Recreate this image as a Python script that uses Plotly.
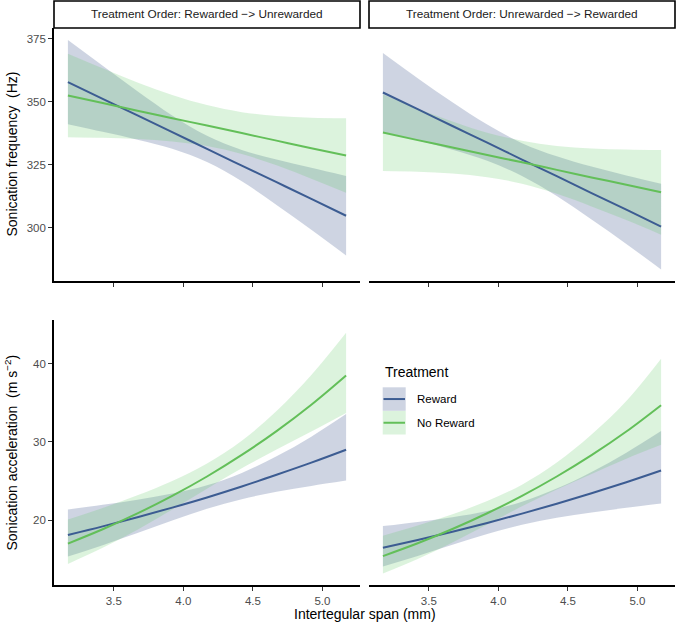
import plotly.graph_objects as go

# ---------------- data ----------------
span = [3.17, 3.42, 3.67, 3.92, 4.17, 4.42, 4.67, 4.92, 5.17]

panel_titles = ["Treatment Order: Rewarded \u2212> Unrewarded",
                "Treatment Order: Unrewarded \u2212> Rewarded"]
treatments = ["Reward", "No Reward"]

freq_ticks = [300, 325, 350, 375]
acc_ticks = [20, 30, 40]
span_ticks = [3.5, 4.0, 4.5, 5.0]
span_ticklabels = ["3.5", "4.0", "4.5", "5.0"]

# Sonication frequency, order 1 (Rewarded -> Unrewarded)
freq_o1_reward_fit = [357.7, 351.1, 344.5, 337.9, 331.2, 324.6, 318.0, 311.4, 304.7]
freq_o1_reward_hi = [374.4, 364.2, 354.1, 344.5, 336.4, 330.8, 327.0, 323.7, 320.5]
freq_o1_reward_lo = [341.0, 338.0, 334.9, 331.3, 326.0, 318.4, 309.0, 299.1, 288.9]
freq_o1_noreward_fit = [352.4, 349.4, 346.4, 343.4, 340.5, 337.5, 334.5, 331.5, 328.6]
freq_o1_noreward_hi = [369.0, 363.2, 357.6, 352.6, 348.6, 345.8, 344.3, 343.6, 343.4]
freq_o1_noreward_lo = [335.8, 335.6, 335.2, 334.2, 332.4, 329.2, 324.7, 319.4, 313.8]

# Sonication frequency, order 2 (Unrewarded -> Rewarded)
freq_o2_reward_fit = [353.6, 347.0, 340.3, 333.7, 327.0, 320.4, 313.7, 307.1, 300.4]
freq_o2_reward_hi = [369.3, 359.3, 349.7, 340.9, 333.5, 328.3, 324.2, 320.7, 317.4]
freq_o2_reward_lo = [337.9, 334.7, 330.9, 326.5, 320.5, 312.5, 303.2, 293.5, 283.4]
freq_o2_noreward_fit = [337.7, 334.7, 331.8, 328.8, 325.9, 322.9, 319.9, 317.0, 314.0]
freq_o2_noreward_hi = [352.9, 347.2, 342.1, 337.6, 334.5, 332.4, 331.4, 331.0, 330.8]
freq_o2_noreward_lo = [322.5, 322.2, 321.5, 320.0, 317.4, 313.4, 308.4, 303.0, 297.2]

# Sonication acceleration, order 1
acc_o1_reward_fit = [18.1, 19.2, 20.37, 21.6, 22.9, 24.3, 25.8, 27.35, 29.0]
acc_o1_reward_hi = [21.37, 21.95, 22.62, 23.40, 24.46, 26.04, 28.17, 30.68, 33.56]
acc_o1_reward_lo = [15.33, 16.79, 18.34, 19.94, 21.44, 22.68, 23.63, 24.38, 25.06]
acc_o1_noreward_fit = [17.0, 18.83, 20.86, 23.1, 25.58, 28.34, 31.39, 34.76, 38.5]
acc_o1_noreward_hi = [20.07, 21.55, 23.17, 25.0, 27.24, 30.15, 33.96, 38.57, 43.97]
acc_o1_noreward_lo = [14.40, 16.45, 18.78, 21.35, 24.02, 26.64, 29.02, 31.33, 33.71]

# Sonication acceleration, order 2
acc_o2_reward_fit = [16.46, 17.46, 18.52, 19.64, 20.83, 22.09, 23.43, 24.85, 26.35]
acc_o2_reward_hi = [19.24, 19.77, 20.37, 21.17, 22.36, 24.05, 26.17, 28.63, 31.39]
acc_o2_reward_lo = [14.08, 15.42, 16.84, 18.22, 19.41, 20.29, 20.98, 21.57, 22.12]
acc_o2_noreward_fit = [15.4, 17.04, 18.86, 20.88, 23.11, 25.58, 28.31, 31.33, 34.7]
acc_o2_noreward_hi = [18.0, 19.30, 20.75, 22.43, 24.54, 27.36, 30.95, 35.23, 40.64]
acc_o2_noreward_lo = [13.18, 15.04, 17.14, 19.44, 21.76, 23.91, 25.90, 27.86, 29.63]

# ---------------- styling ----------------
W, H = 677, 623
FONT = "Liberation Sans, Arial, sans-serif"
line_col = {"Reward": "#3C5C92", "No Reward": "#63BF59"}
fill_col = {"Reward": "rgba(59,82,139,0.25)", "No Reward": "rgba(94,201,98,0.22)"}

def px_x(p):
    return p / W

def px_y(p):
    return 1 - p / H

left_dom = [px_x(54), px_x(360)]
right_dom = [px_x(369), px_x(675)]
top_dom = [px_y(281), px_y(28)]
bot_dom = [px_y(585), px_y(320)]

panels = [
    ("x", "y", [("Reward", freq_o1_reward_fit, freq_o1_reward_lo, freq_o1_reward_hi),
                ("No Reward", freq_o1_noreward_fit, freq_o1_noreward_lo, freq_o1_noreward_hi)]),
    ("x2", "y2", [("Reward", freq_o2_reward_fit, freq_o2_reward_lo, freq_o2_reward_hi),
                  ("No Reward", freq_o2_noreward_fit, freq_o2_noreward_lo, freq_o2_noreward_hi)]),
    ("x3", "y3", [("Reward", acc_o1_reward_fit, acc_o1_reward_lo, acc_o1_reward_hi),
                  ("No Reward", acc_o1_noreward_fit, acc_o1_noreward_lo, acc_o1_noreward_hi)]),
    ("x4", "y4", [("Reward", acc_o2_reward_fit, acc_o2_reward_lo, acc_o2_reward_hi),
                  ("No Reward", acc_o2_noreward_fit, acc_o2_noreward_lo, acc_o2_noreward_hi)]),
]

fig = go.Figure()
for xa, ya, series in panels:
    for name, fit, lo, hi in series:
        fig.add_trace(go.Scatter(x=span, y=lo, mode="lines", xaxis=xa, yaxis=ya,
                                 line=dict(width=0, shape="spline", color=fill_col[name]),
                                 showlegend=False, hoverinfo="skip"))
        fig.add_trace(go.Scatter(x=span, y=hi, mode="lines", xaxis=xa, yaxis=ya,
                                 fill="tonexty", fillcolor=fill_col[name],
                                 line=dict(width=0, shape="spline", color=fill_col[name]),
                                 showlegend=False, hoverinfo="skip"))
    for name, fit, lo, hi in series:
        fig.add_trace(go.Scatter(x=span, y=fit, mode="lines", xaxis=xa, yaxis=ya, name=name,
                                 line=dict(width=2, shape="spline", color=line_col[name]),
                                 showlegend=False))

XR = [3.07, 5.27]
TOPR = [278.8, 379.2]
BOTR = [11.7, 45.6]
tickfont = dict(family=FONT, size=11.5, color="#4d4d4d")
axline = dict(showline=True, linecolor="black", linewidth=1.6, ticks="outside",
              ticklen=4, tickwidth=1.2, tickcolor="#333333", showgrid=False,
              zeroline=False, tickfont=tickfont)

fig.update_layout(
    xaxis=dict(domain=left_dom, range=XR, anchor="y", tickvals=span_ticks,
               showticklabels=False, **axline),
    yaxis=dict(domain=top_dom, range=TOPR, anchor="x", tickvals=freq_ticks, **axline),
    xaxis2=dict(domain=right_dom, range=XR, anchor="y2", tickvals=span_ticks,
                showticklabels=False, **axline),
    yaxis2=dict(domain=top_dom, range=TOPR, anchor="x2", showline=False, showgrid=False,
                zeroline=False, showticklabels=False, ticks=""),
    xaxis3=dict(domain=left_dom, range=XR, anchor="y3", tickvals=span_ticks,
                ticktext=span_ticklabels, **axline),
    yaxis3=dict(domain=bot_dom, range=BOTR, anchor="x3", tickvals=acc_ticks, **axline),
    xaxis4=dict(domain=right_dom, range=XR, anchor="y4", tickvals=span_ticks,
                ticktext=span_ticklabels, **axline),
    yaxis4=dict(domain=bot_dom, range=BOTR, anchor="x4", showline=False, showgrid=False,
                zeroline=False, showticklabels=False, ticks=""),
)

shapes = []
annotations = []

for dom, title in zip([left_dom, right_dom], panel_titles):
    shapes.append(dict(type="rect", xref="paper", yref="paper",
                       x0=dom[0], x1=dom[1], y0=px_y(28), y1=px_y(1),
                       line=dict(color="black", width=1.6), fillcolor="white", layer="above"))
    annotations.append(dict(xref="paper", yref="paper", x=(dom[0] + dom[1]) / 2, y=px_y(14.5),
                            text=title, showarrow=False, xanchor="center", yanchor="middle",
                            font=dict(family=FONT, size=11.8, color="#1a1a1a")))

annotations.append(dict(xref="paper", yref="paper", x=px_x(11), y=px_y(154.5),
                        text="Sonication frequency \u00a0(Hz)", textangle=-90, showarrow=False,
                        xanchor="center", yanchor="middle",
                        font=dict(family=FONT, size=14, color="black")))
annotations.append(dict(xref="paper", yref="paper", x=px_x(11), y=px_y(452.5),
                        text="Sonication acceleration \u00a0(m s<sup>\u22122</sup>)", textangle=-90,
                        showarrow=False, xanchor="center", yanchor="middle",
                        font=dict(family=FONT, size=14, color="black")))
annotations.append(dict(xref="paper", yref="paper", x=px_x(364.5), y=px_y(614),
                        text="Intertegular span (mm)", showarrow=False,
                        xanchor="center", yanchor="middle",
                        font=dict(family=FONT, size=14, color="black")))

annotations.append(dict(xref="paper", yref="paper", x=px_x(382.5), y=px_y(372),
                        text="Treatment", showarrow=False, xanchor="left", yanchor="middle",
                        font=dict(family=FONT, size=14, color="black")))
key_tops = [387.3, 411.0]
for name, top in zip(treatments, key_tops):
    bot = top + 23.5
    mid = (top + bot) / 2
    shapes.append(dict(type="rect", xref="paper", yref="paper",
                       x0=px_x(382.7), x1=px_x(405.7), y0=px_y(bot), y1=px_y(top),
                       line=dict(width=0), fillcolor=fill_col[name]))
    shapes.append(dict(type="line", xref="paper", yref="paper",
                       x0=px_x(383.5), x1=px_x(405), y0=px_y(mid), y1=px_y(mid),
                       line=dict(color=line_col[name], width=2)))
    annotations.append(dict(xref="paper", yref="paper", x=px_x(414.5), y=px_y(mid),
                            text=name, showarrow=False, xanchor="left", yanchor="middle",
                            font=dict(family=FONT, size=11.5, color="black")))

fig.update_layout(
    width=W, height=H,
    margin=dict(l=0, r=0, t=0, b=0),
    paper_bgcolor="white", plot_bgcolor="white",
    showlegend=False,
    shapes=shapes, annotations=annotations,
    font=dict(family=FONT),
)

fig.write_html("out.html", config={"displayModeBar": False},
               post_script="document.body.style.margin='0';document.body.style.overflow='hidden';")
